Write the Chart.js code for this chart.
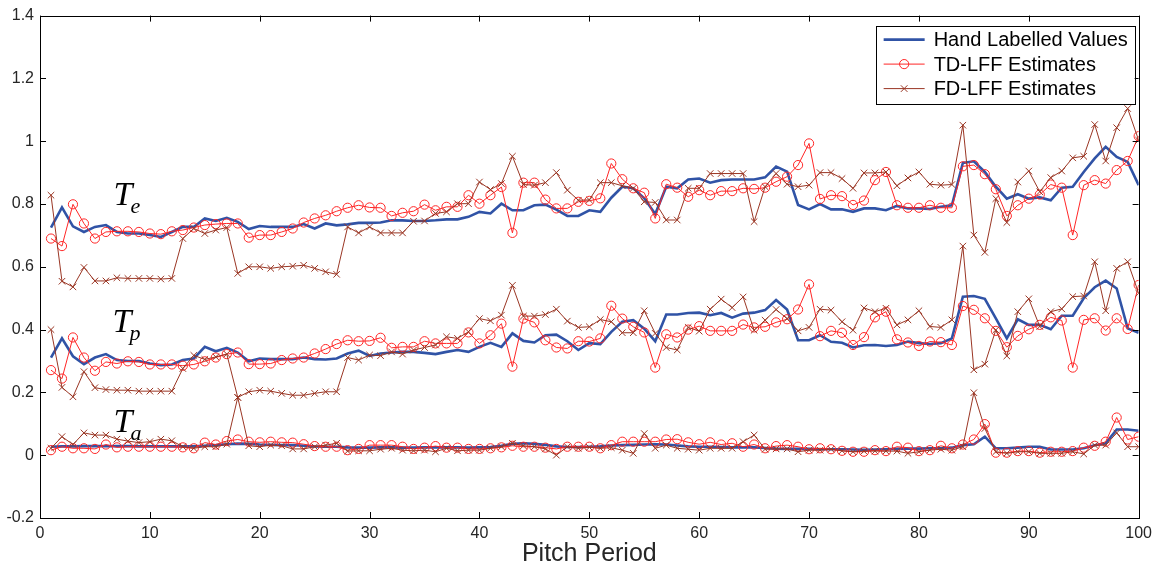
<!DOCTYPE html>
<html>
<head>
<meta charset="utf-8">
<title>Pitch Period</title>
<script src="https://cdn.jsdelivr.net/npm/chart.js@4/dist/chart.umd.min.js"></script>
<style>
  html, body { margin: 0; padding: 0; background: #fff; }
  #wrap { width: 1158px; height: 564px; }
</style>
</head>
<body>
<div id="wrap"><canvas id="myChart" width="1158" height="564"></canvas></div>
<script>
/* DATA */

const periods = Array.from({ length: 100 }, (_, i) => i + 1);
const xTicks = [0, 10, 20, 30, 40, 50, 60, 70, 80, 90, 100];
const yTicks = [-0.2, 0, 0.2, 0.4, 0.6, 0.8, 1, 1.2, 1.4];

const seriesNames = ['Hand Labelled Values', 'TD-LFF Estimates', 'FD-LFF Estimates'];

// Te
const handTe = [0.725, 0.789, 0.729, 0.711, 0.727, 0.733, 0.711, 0.706, 0.706, 0.701, 0.695, 0.711, 0.727, 0.727, 0.754, 0.746, 0.756, 0.743, 0.720, 0.730, 0.727, 0.727, 0.727, 0.736, 0.722,
  0.738, 0.732, 0.735, 0.740, 0.740, 0.741, 0.748, 0.748, 0.746, 0.746, 0.748, 0.751, 0.751, 0.759, 0.775, 0.770, 0.801, 0.780, 0.780, 0.796, 0.798, 0.782, 0.762, 0.762, 0.780,
  0.775, 0.820, 0.855, 0.850, 0.818, 0.768, 0.855, 0.850, 0.878, 0.881, 0.868, 0.876, 0.878, 0.878, 0.878, 0.885, 0.919, 0.903, 0.797, 0.783, 0.800, 0.783, 0.783, 0.775, 0.786,
  0.786, 0.780, 0.794, 0.786, 0.786, 0.784, 0.791, 0.796, 0.931, 0.936, 0.902, 0.855, 0.817, 0.831, 0.817, 0.821, 0.812, 0.852, 0.855, 0.902, 0.945, 0.982, 0.950, 0.934, 0.860];
const tdTe = [0.690, 0.666, 0.799, 0.738, 0.690, 0.711, 0.713, 0.713, 0.711, 0.706, 0.704, 0.713, 0.717, 0.725, 0.733, 0.736, 0.738, 0.738, 0.693, 0.701, 0.701, 0.711, 0.722, 0.741, 0.754,
  0.764, 0.777, 0.788, 0.796, 0.789, 0.788, 0.762, 0.772, 0.777, 0.798, 0.780, 0.791, 0.791, 0.828, 0.801, 0.828, 0.854, 0.708, 0.868, 0.868, 0.814, 0.786, 0.786, 0.807, 0.810,
  0.818, 0.929, 0.879, 0.850, 0.836, 0.754, 0.863, 0.852, 0.823, 0.844, 0.828, 0.841, 0.841, 0.850, 0.848, 0.852, 0.871, 0.887, 0.924, 0.993, 0.816, 0.828, 0.825, 0.797, 0.811,
  0.876, 0.902, 0.796, 0.788, 0.788, 0.796, 0.788, 0.788, 0.920, 0.924, 0.895, 0.847, 0.762, 0.796, 0.817, 0.830, 0.862, 0.852, 0.701, 0.860, 0.876, 0.865, 0.908, 0.937, 1.016];
const fdTe = [0.828, 0.554, 0.536, 0.598, 0.555, 0.555, 0.565, 0.563, 0.563, 0.563, 0.561, 0.563, 0.690, 0.722, 0.706, 0.717, 0.725, 0.579, 0.600, 0.600, 0.595, 0.600, 0.602, 0.605, 0.595,
  0.584, 0.576, 0.727, 0.708, 0.727, 0.708, 0.708, 0.708, 0.745, 0.746, 0.770, 0.775, 0.801, 0.801, 0.870, 0.846, 0.865, 0.952, 0.862, 0.860, 0.868, 0.900, 0.844, 0.812, 0.813,
  0.868, 0.868, 0.858, 0.850, 0.807, 0.805, 0.749, 0.749, 0.850, 0.850, 0.897, 0.897, 0.897, 0.897, 0.744, 0.855, 0.897, 0.863, 0.855, 0.860, 0.900, 0.900, 0.881, 0.850, 0.899,
  0.899, 0.902, 0.858, 0.883, 0.902, 0.863, 0.860, 0.862, 1.051, 0.701, 0.646, 0.817, 0.741, 0.870, 0.905, 0.839, 0.884, 0.905, 0.947, 0.952, 1.053, 0.937, 1.043, 1.104, 1.003];

// Tp
const handTp = [0.311, 0.372, 0.315, 0.290, 0.311, 0.322, 0.303, 0.300, 0.300, 0.292, 0.287, 0.289, 0.303, 0.308, 0.345, 0.331, 0.342, 0.327, 0.299, 0.308, 0.306, 0.306, 0.306, 0.311, 0.306,
  0.305, 0.308, 0.324, 0.333, 0.316, 0.324, 0.327, 0.329, 0.329, 0.326, 0.322, 0.329, 0.335, 0.329, 0.345, 0.358, 0.345, 0.388, 0.364, 0.359, 0.382, 0.384, 0.363, 0.335, 0.357,
  0.354, 0.393, 0.425, 0.430, 0.403, 0.363, 0.448, 0.448, 0.453, 0.454, 0.446, 0.453, 0.438, 0.451, 0.454, 0.462, 0.494, 0.464, 0.366, 0.366, 0.382, 0.361, 0.358, 0.343, 0.350,
  0.351, 0.348, 0.351, 0.362, 0.357, 0.354, 0.357, 0.372, 0.505, 0.507, 0.498, 0.436, 0.372, 0.433, 0.415, 0.415, 0.401, 0.444, 0.444, 0.500, 0.535, 0.556, 0.531, 0.404, 0.390];
const tdTp = [0.271, 0.244, 0.375, 0.311, 0.269, 0.297, 0.292, 0.299, 0.297, 0.289, 0.289, 0.289, 0.285, 0.289, 0.299, 0.311, 0.322, 0.327, 0.290, 0.290, 0.292, 0.303, 0.308, 0.311, 0.324,
  0.338, 0.354, 0.366, 0.363, 0.364, 0.374, 0.342, 0.345, 0.345, 0.363, 0.356, 0.356, 0.356, 0.391, 0.356, 0.382, 0.419, 0.282, 0.435, 0.423, 0.366, 0.343, 0.340, 0.363, 0.362,
  0.372, 0.476, 0.435, 0.409, 0.391, 0.279, 0.385, 0.375, 0.400, 0.411, 0.396, 0.396, 0.396, 0.416, 0.407, 0.409, 0.423, 0.433, 0.464, 0.544, 0.379, 0.396, 0.390, 0.351, 0.376,
  0.439, 0.457, 0.369, 0.359, 0.348, 0.362, 0.360, 0.351, 0.475, 0.463, 0.436, 0.396, 0.344, 0.380, 0.401, 0.415, 0.439, 0.429, 0.279, 0.431, 0.436, 0.397, 0.436, 0.402, 0.542];
const fdTp = [0.400, 0.216, 0.186, 0.266, 0.215, 0.209, 0.207, 0.207, 0.204, 0.204, 0.204, 0.204, 0.276, 0.318, 0.305, 0.313, 0.322, 0.184, 0.202, 0.207, 0.204, 0.197, 0.191, 0.191, 0.197,
  0.202, 0.202, 0.311, 0.303, 0.319, 0.317, 0.329, 0.322, 0.335, 0.343, 0.351, 0.377, 0.372, 0.393, 0.435, 0.428, 0.446, 0.541, 0.443, 0.443, 0.448, 0.465, 0.427, 0.407, 0.409,
  0.432, 0.425, 0.390, 0.390, 0.460, 0.388, 0.343, 0.335, 0.407, 0.395, 0.465, 0.497, 0.470, 0.504, 0.398, 0.430, 0.464, 0.435, 0.396, 0.407, 0.465, 0.462, 0.425, 0.398, 0.469,
  0.457, 0.468, 0.415, 0.431, 0.460, 0.410, 0.407, 0.431, 0.666, 0.272, 0.290, 0.399, 0.316, 0.457, 0.498, 0.410, 0.457, 0.466, 0.505, 0.507, 0.616, 0.460, 0.595, 0.616, 0.516];

// Ta
const handTa = [0.027, 0.028, 0.028, 0.029, 0.029, 0.029, 0.029, 0.029, 0.028, 0.028, 0.028, 0.028, 0.028, 0.028, 0.030, 0.032, 0.035, 0.037, 0.036, 0.034, 0.033, 0.032, 0.032, 0.030, 0.028,
  0.027, 0.027, 0.025, 0.024, 0.024, 0.025, 0.025, 0.024, 0.024, 0.025, 0.025, 0.025, 0.025, 0.024, 0.025, 0.026, 0.030, 0.036, 0.038, 0.036, 0.033, 0.028, 0.026, 0.026, 0.027,
  0.028, 0.031, 0.032, 0.033, 0.034, 0.035, 0.034, 0.031, 0.028, 0.027, 0.027, 0.026, 0.025, 0.025, 0.025, 0.023, 0.021, 0.020, 0.020, 0.020, 0.019, 0.019, 0.019, 0.018, 0.017,
  0.018, 0.019, 0.020, 0.021, 0.021, 0.022, 0.022, 0.024, 0.032, 0.035, 0.059, 0.022, 0.022, 0.024, 0.027, 0.027, 0.018, 0.018, 0.018, 0.022, 0.032, 0.038, 0.082, 0.082, 0.078];
const tdTa = [0.016, 0.027, 0.022, 0.022, 0.020, 0.034, 0.025, 0.027, 0.027, 0.027, 0.027, 0.027, 0.025, 0.022, 0.040, 0.034, 0.045, 0.050, 0.043, 0.041, 0.043, 0.041, 0.040, 0.035, 0.029,
  0.027, 0.027, 0.016, 0.020, 0.032, 0.032, 0.032, 0.027, 0.020, 0.024, 0.029, 0.024, 0.024, 0.020, 0.020, 0.022, 0.025, 0.030, 0.027, 0.027, 0.024, 0.020, 0.027, 0.027, 0.027,
  0.022, 0.032, 0.043, 0.043, 0.043, 0.043, 0.050, 0.051, 0.041, 0.035, 0.041, 0.034, 0.038, 0.027, 0.034, 0.022, 0.029, 0.032, 0.027, 0.019, 0.022, 0.019, 0.014, 0.011, 0.011,
  0.016, 0.013, 0.027, 0.024, 0.013, 0.016, 0.030, 0.022, 0.034, 0.050, 0.099, 0.008, 0.008, 0.013, 0.013, 0.008, 0.011, 0.011, 0.013, 0.024, 0.030, 0.043, 0.120, 0.050, 0.059];
const fdTa = [0.022, 0.059, 0.034, 0.071, 0.064, 0.064, 0.051, 0.045, 0.040, 0.043, 0.051, 0.046, 0.027, 0.022, 0.027, 0.027, 0.035, 0.184, 0.030, 0.027, 0.032, 0.030, 0.020, 0.020, 0.027,
  0.032, 0.038, 0.013, 0.014, 0.014, 0.019, 0.022, 0.016, 0.014, 0.016, 0.011, 0.022, 0.014, 0.016, 0.016, 0.022, 0.027, 0.038, 0.030, 0.027, 0.020, 0.000, 0.027, 0.022, 0.025,
  0.022, 0.024, 0.016, 0.006, 0.069, 0.022, 0.032, 0.022, 0.019, 0.016, 0.022, 0.022, 0.022, 0.043, 0.064, 0.019, 0.020, 0.020, 0.011, 0.016, 0.016, 0.019, 0.014, 0.011, 0.013,
  0.013, 0.013, 0.013, 0.006, 0.011, 0.016, 0.019, 0.016, 0.027, 0.199, 0.085, 0.011, 0.006, 0.011, 0.011, 0.006, 0.006, 0.006, 0.011, 0.004, 0.032, 0.032, 0.071, 0.027, 0.027];

// parameter labels, anchored in data units (x, baseline y)
const paramLabels = [
  { main: 'T', sub: 'e', x: 6.7, y: 0.798 },
  { main: 'T', sub: 'p', x: 6.6, y: 0.393 },
  { main: 'T', sub: 'a', x: 6.7, y: 0.074 }
];


/* STYLES */

const BLUE = '#3053a6';
const RED = '#ff2626';
const BROWN = '#9a3624';
const FONT = '"Liberation Sans", Arial, sans-serif';

function toPoints(values) {
  return values.map((v, i) => ({ x: periods[i], y: v }));
}

function handSet(values) {
  return {
    label: seriesNames[0], data: toPoints(values), order: 3,
    borderColor: BLUE, borderWidth: 2.6, pointRadius: 0, tension: 0
  };
}

function tdSet(values) {
  return {
    label: seriesNames[1], data: toPoints(values), order: 2,
    borderColor: RED, borderWidth: 1, pointStyle: 'circle', pointRadius: 4.6,
    pointBorderColor: RED, pointBackgroundColor: 'rgba(0,0,0,0)', pointBorderWidth: 1
  };
}

function fdSet(values) {
  return {
    label: seriesNames[2], data: toPoints(values), order: 1,
    borderColor: BROWN, borderWidth: 1, pointStyle: 'crossRot', pointRadius: 4.6,
    pointBorderColor: BROWN, pointBorderWidth: 1
  };
}


/* PLUGINS */

// MATLAB-like box with inward ticks
const boxPlugin = {
  id: 'box',
  afterDatasetsDraw(chart) {
    const { ctx, chartArea: a, scales } = chart;
    ctx.save();
    ctx.strokeStyle = '#000';
    ctx.lineWidth = 1;
    ctx.strokeRect(Math.round(a.left) + 0.5, Math.round(a.top) + 0.5,
      Math.round(a.right - a.left), Math.round(a.bottom - a.top));
    ctx.beginPath();
    xTicks.forEach(t => {
      const px = Math.round(scales.x.getPixelForValue(t)) + 0.5;
      ctx.moveTo(px, a.bottom); ctx.lineTo(px, a.bottom - 6);
      ctx.moveTo(px, a.top); ctx.lineTo(px, a.top + 6);
    });
    yTicks.forEach(t => {
      const py = Math.round(scales.y.getPixelForValue(t)) + 0.5;
      ctx.moveTo(a.left, py); ctx.lineTo(a.left + 6, py);
      ctx.moveTo(a.right, py); ctx.lineTo(a.right - 6, py);
    });
    ctx.stroke();
    ctx.restore();
  }
};

// T_e, T_p, T_a labels
const paramPlugin = {
  id: 'params',
  afterDatasetsDraw(chart) {
    const { ctx, scales } = chart;
    ctx.save();
    ctx.fillStyle = '#000';
    ctx.textBaseline = 'alphabetic';
    paramLabels.forEach(p => {
      const px = scales.x.getPixelForValue(p.x);
      const py = scales.y.getPixelForValue(p.y);
      ctx.font = 'italic 34px "Liberation Serif", "Times New Roman", serif';
      ctx.fillText(p.main, px, py);
      const w = ctx.measureText(p.main).width;
      ctx.font = 'italic 22px "Liberation Serif", "Times New Roman", serif';
      ctx.fillText(p.sub, px + w - 2, py + 8);
    });
    ctx.restore();
  }
};

// legend box in the top right corner
const legendPlugin = {
  id: 'boxLegend',
  afterDraw(chart) {
    const { ctx, chartArea: a } = chart;
    const x0 = a.right - 263, y0 = a.top + 10, w = 259, h = 78;
    ctx.save();
    ctx.fillStyle = '#fff';
    ctx.fillRect(x0, y0, w, h);
    ctx.strokeStyle = '#000';
    ctx.lineWidth = 1;
    ctx.strokeRect(Math.round(x0) + 0.5, Math.round(y0) + 0.5, w, h);
    ctx.font = '20px ' + FONT;
    ctx.textBaseline = 'middle';
    const styles = [
      { color: BLUE, width: 2.6, marker: null },
      { color: RED, width: 1, marker: 'circle' },
      { color: BROWN, width: 1, marker: 'cross' }
    ];
    seriesNames.forEach((name, i) => {
      const cy = y0 + 14 + i * 24.5;
      const s = styles[i];
      ctx.strokeStyle = s.color;
      ctx.lineWidth = s.width;
      ctx.beginPath();
      ctx.moveTo(x0 + 8, cy); ctx.lineTo(x0 + 49, cy);
      ctx.stroke();
      ctx.lineWidth = 1;
      const mx = x0 + 28.5;
      if (s.marker === 'circle') {
        ctx.beginPath();
        ctx.arc(mx, cy, 4.6, 0, Math.PI * 2);
        ctx.stroke();
      } else if (s.marker === 'cross') {
        ctx.beginPath();
        ctx.moveTo(mx - 3.3, cy - 3.3); ctx.lineTo(mx + 3.3, cy + 3.3);
        ctx.moveTo(mx - 3.3, cy + 3.3); ctx.lineTo(mx + 3.3, cy - 3.3);
        ctx.stroke();
      }
      ctx.fillStyle = '#000';
      ctx.fillText(name, x0 + 58, cy + 1);
    });
    ctx.restore();
  }
};


/* CHART */

const ctx = document.getElementById('myChart').getContext('2d');

const chart = new Chart(ctx, {
  type: 'line',
  data: {
    datasets: [
      handSet(handTe), tdSet(tdTe), fdSet(fdTe),
      handSet(handTp), tdSet(tdTp), fdSet(fdTp),
      handSet(handTa), tdSet(tdTa), fdSet(fdTa)
    ]
  },
  options: {
    responsive: false,
    animation: false,
    layout: { padding: { top: 15, right: 17, left: 0, bottom: 0 } },
    plugins: {
      legend: { display: false },
      tooltip: { enabled: false }
    },
    scales: {
      x: {
        type: 'linear', min: 0, max: 100,
        afterFit(scale) { scale.height = 46; },
        afterBuildTicks(scale) { scale.ticks = xTicks.map(v => ({ value: v })); },
        grid: { display: false, drawTicks: false },
        border: { display: false },
        ticks: { color: '#262626', padding: 6, maxRotation: 0, font: { family: FONT, size: 16 } },
        title: {
          display: true, text: 'Pitch Period', color: '#262626',
          padding: { top: 0, bottom: -3 }, font: { family: FONT, size: 25, lineHeight: 1 }
        }
      },
      y: {
        min: -0.2, max: 1.4,
        afterFit(scale) { scale.width = 40; },
        afterBuildTicks(scale) { scale.ticks = yTicks.map(v => ({ value: v })); },
        grid: { display: false, drawTicks: false },
        border: { display: false },
        ticks: {
          color: '#262626', padding: 6, font: { family: FONT, size: 16 },
          callback: v => String(parseFloat(v.toFixed(1)))
        }
      }
    }
  },
  plugins: [boxPlugin, paramPlugin, legendPlugin]
});
</script>
</body>
</html>
